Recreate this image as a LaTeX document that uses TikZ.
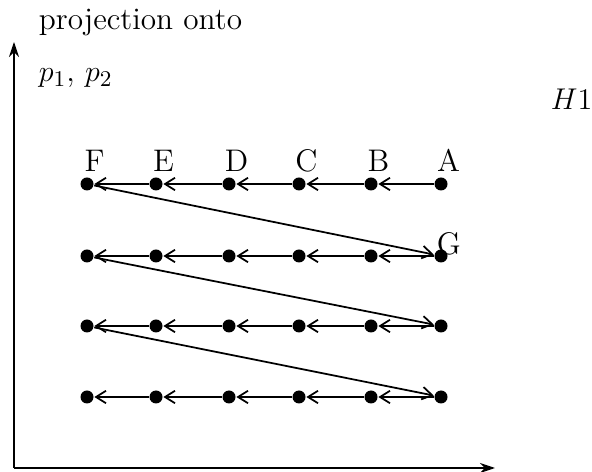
\documentclass[tikz,border=0pt]{standalone}
\usetikzlibrary{arrows.meta}

\begin{document}
\begin{tikzpicture}[x=0.4pt,y=0.4pt,line width=0.7pt,
    font=\fontsize{12.5}{15}\selectfont,
    dot/.style={circle,fill,inner sep=0pt,minimum size=5.2pt},
    tag/.style={inner sep=0pt},
    flow/.style={-{Straight Barb[length=4pt,width=5pt]}}]
    \useasboundingbox (0,0) rectangle (592,472);

    % Axes
    \coordinate (origin) at (14,4);
    \coordinate (ytop) at (14,430);
    \coordinate (xend) at (495,4);
    \draw[-{Stealth[length=6pt,width=4pt]}] (origin) -- (ytop);
    \draw[-{Stealth[length=6pt,width=4pt]}] (origin) -- (xend);

    % Axis labels
    \node[tag,anchor=base west] (proj) at (38,442) {projection onto};
    \node[tag,anchor=base west] (pp) at (38,390) {$p_1$, $p_2$};
    \node[tag,anchor=base west] (hone) at (550,362) {$H1$};

    % Grid of points, 4 rows of 6
    \foreach \r/\y in {1/288,2/216,3/146,4/75}
        \foreach \c/\x in {1/87,2/156,3/229,4/299,5/371,6/441}
            \node[dot] (p\r\c) at (\x,\y) {};

    % Letters on the top row
    \foreach \c/\l in {1/F,2/E,3/D,4/C,5/B,6/A}
        \node[tag,anchor=base] (l\c) at ([xshift=3pt]p1\c |- 0,300) {\l};
    \node[tag,anchor=base west] (lg) at (436,217) {G};

    % Rows, right to left
    \foreach \r in {1,...,4}
        \foreach \c/\n in {1/2,2/3,3/4,4/5,5/6}
            \draw[flow] (p\r\n) -- (p\r\c);

    % Back to the right end of the next row
    \foreach \r/\s in {1/2,2/3,3/4}
        \draw[flow] (p\r1) -- (p\s6);
\end{tikzpicture}
\end{document}
